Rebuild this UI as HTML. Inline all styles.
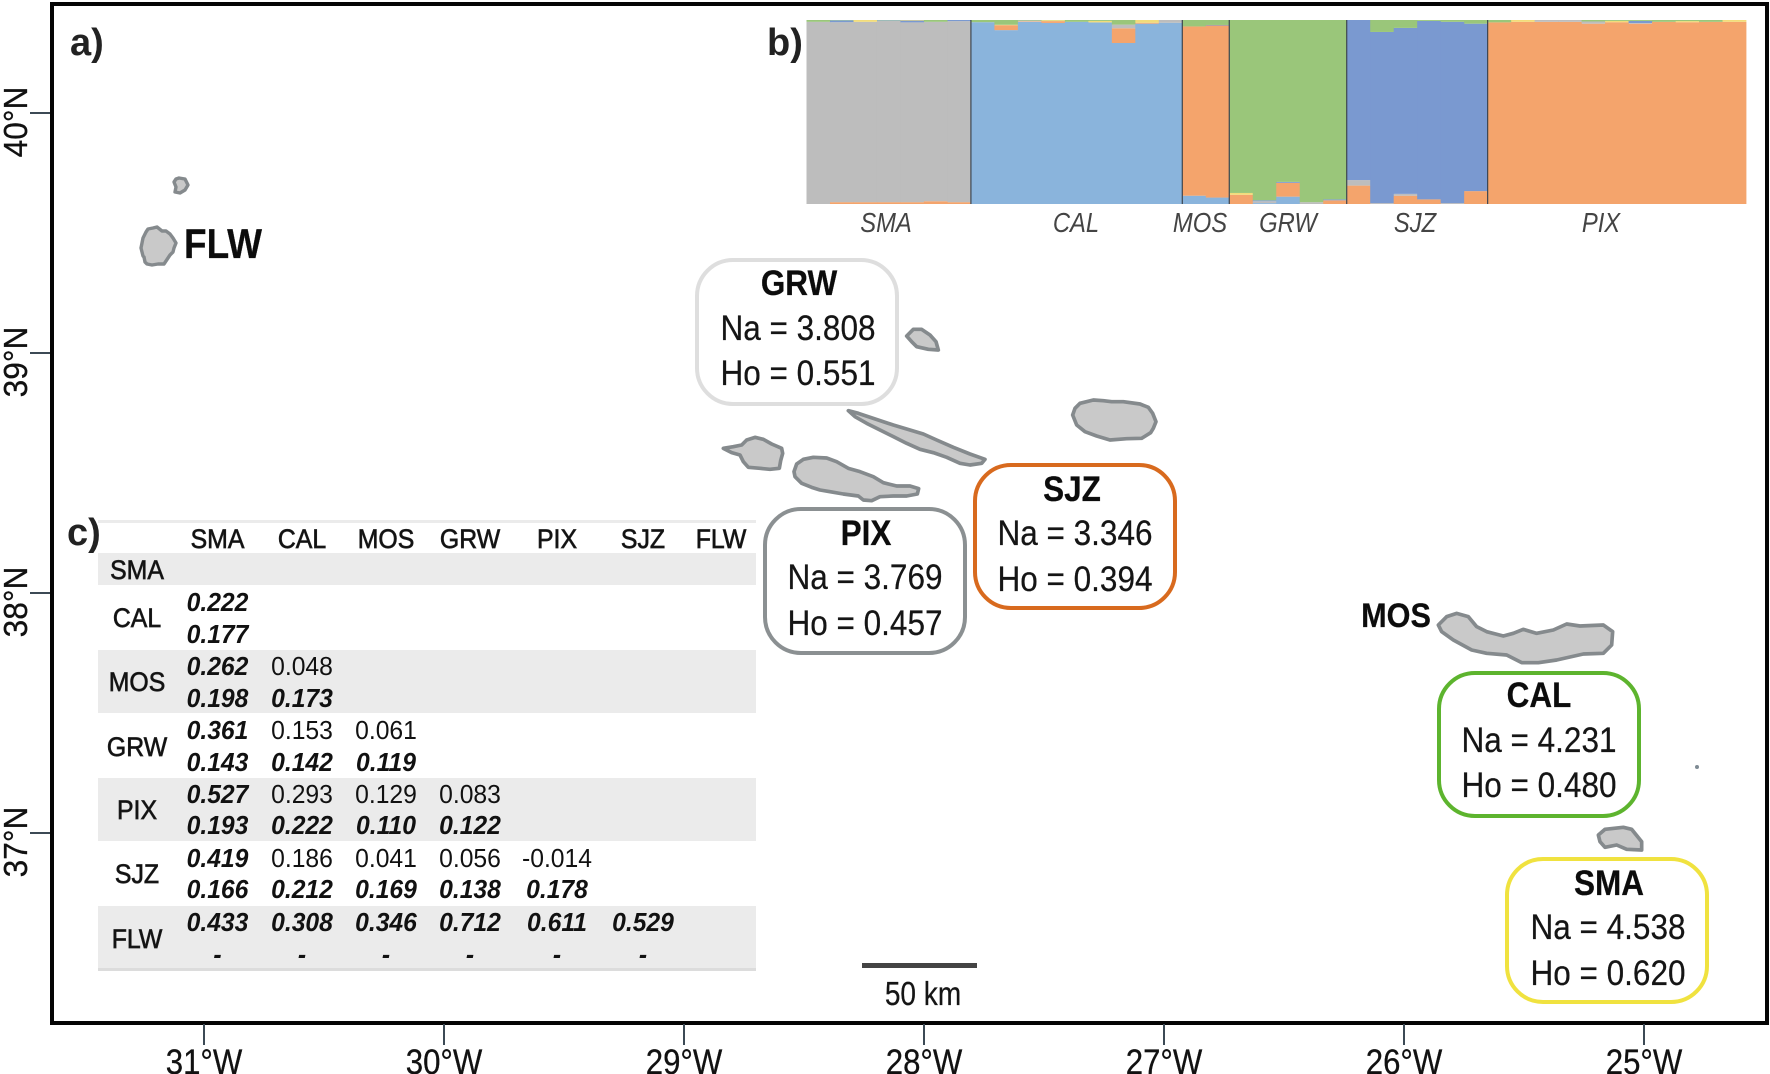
<!DOCTYPE html>
<html lang="en">
<head>
<meta charset="utf-8">
<title>Azores population genetics figure</title>
<style>
html,body{margin:0;padding:0;background:#fff;width:1770px;height:1074px;overflow:hidden}
svg{display:block;font-family:"Liberation Sans",Arial,sans-serif}
.isl{fill:#c9c9c9;stroke:#858a8d;stroke-width:11;stroke-linejoin:round}
.box{fill:#fff;stroke-width:4}
.t{fill:#151515;text-anchor:middle;font-size:35px;stroke:#151515;stroke-width:.25px}
.b{font-weight:700;fill:#0c0c0c}
</style>
</head>
<body>
<svg id="fig" xmlns="http://www.w3.org/2000/svg" width="1770" height="1074" viewBox="0 0 1770 1074">
  <rect width="1770" height="1074" fill="#fff"/>
  <rect x="52" y="4" width="1715" height="1019" fill="none" stroke="#050505" stroke-width="4"/>
  <g id="axes"></g>

  <g>
    <polygon class="isl" style="stroke-width:3.4" points="174,182 176,179 179,178 185,179 188,185 185,190 180,193 175,192 176,187"/>
    <polygon class="isl" style="stroke-width:3.4" points="143,238 146,232 148,229 153,228 157,227 162,231 166,231 170,234 173,238 176,243 174,248 173,252 170,255 168,258 164,264 158,264 152,265 147,264 145,262 144,257 143,256 141,248"/>
    <g transform="translate(680,250) scale(.33333)">
      <polygon class="isl" points="680,258 700,238 725,238 750,255 768,275 775,300 745,298 710,290 695,275"/>
      <polygon class="isl" points="505,482 535,490 580,505 640,525 690,540 730,552 770,570 820,592 870,612 915,628 905,640 870,645 840,640 800,622 760,608 720,598 680,580 640,560 600,540 560,520 525,500"/>
      <polygon class="isl" points="1178,495 1185,475 1200,460 1240,450 1270,452 1295,455 1330,455 1380,462 1405,472 1418,490 1428,515 1420,535 1412,548 1385,565 1340,566 1290,570 1250,558 1215,545 1190,525"/>
      <polygon class="isl" points="130,595 160,590 185,585 200,570 225,562 250,568 275,582 305,595 308,610 302,632 298,655 270,658 240,655 205,652 190,635 180,615 155,608"/>
      <polygon class="isl" points="342,665 350,642 370,628 400,622 440,624 470,635 505,655 540,665 580,680 610,698 650,708 690,708 716,716 712,732 680,738 640,738 600,740 575,752 550,750 535,738 490,732 450,725 420,720 395,712 365,700 345,680"/>
    </g>
    <g transform="translate(1340,590) scale(.33333)">
      <polygon class="isl" points="295,105 320,80 350,70 385,80 410,110 440,125 490,138 520,130 550,118 590,130 640,120 680,102 720,108 790,105 818,125 815,165 790,190 730,192 650,210 595,218 545,218 500,195 440,190 395,180 340,150 305,125"/>
      <polygon class="isl" points="775,735 795,718 850,712 875,718 905,755 905,780 860,778 830,765 795,772 780,755"/>
    </g>
    <circle cx="1697" cy="767" r="2" fill="#7f8b94"/>
  </g>

  <g font-weight="700" font-size="38" fill="#222">
    <text x="70" y="55">a)</text>
    <text x="767" y="55">b)</text>
    <text x="67" y="545">c)</text>
  </g>

  <text class="t b" style="font-size:42px" transform="translate(223,258) scale(.88,1)">FLW</text>
  <text class="t b" style="font-size:34px" transform="translate(1396,627) scale(.9,1)">MOS</text>

  <g>
    <rect class="box" x="697" y="260" width="200" height="144" rx="36" stroke="#dedede"/>
    <text class="t b" transform="translate(799,295) scale(.9,1)">GRW</text>
    <text class="t" transform="translate(798,340) scale(.9,1)">Na = 3.808</text>
    <text class="t" transform="translate(798,385) scale(.9,1)">Ho = 0.551</text>
  </g>
  <g>
    <rect class="box" x="765" y="509" width="200" height="144" rx="36" stroke="#8b9092"/>
    <text class="t b" transform="translate(866,545) scale(.9,1)">PIX</text>
    <text class="t" transform="translate(865,589) scale(.9,1)">Na = 3.769</text>
    <text class="t" transform="translate(865,635) scale(.9,1)">Ho = 0.457</text>
  </g>
  <g>
    <rect class="box" x="975" y="465" width="200" height="143" rx="36" stroke="#d86a1e"/>
    <text class="t b" transform="translate(1072,501) scale(.9,1)">SJZ</text>
    <text class="t" transform="translate(1075,545) scale(.9,1)">Na = 3.346</text>
    <text class="t" transform="translate(1075,591) scale(.9,1)">Ho = 0.394</text>
  </g>
  <g>
    <rect class="box" x="1439" y="673" width="200" height="143" rx="36" stroke="#5db42e"/>
    <text class="t b" transform="translate(1539,707) scale(.9,1)">CAL</text>
    <text class="t" transform="translate(1539,752) scale(.9,1)">Na = 4.231</text>
    <text class="t" transform="translate(1539,797) scale(.9,1)">Ho = 0.480</text>
  </g>
  <g>
    <rect class="box" x="1507" y="859" width="200" height="143" rx="36" stroke="#f0e23f"/>
    <text class="t b" transform="translate(1609,895) scale(.9,1)">SMA</text>
    <text class="t" transform="translate(1608,939) scale(.9,1)">Na = 4.538</text>
    <text class="t" transform="translate(1608,985) scale(.9,1)">Ho = 0.620</text>
  </g>

  <rect x="862" y="963" width="115" height="5" fill="#444"/>
  <text class="t" style="font-size:33px" transform="translate(923,1005) scale(.85,1)">50 km</text>

  <g id="structure"></g>
  <g id="fst"></g>
</svg>

<script>
// Map axes
var lonTicks = [31, 30, 29, 28, 27, 26, 25];
var latTicks = [40, 39, 38, 37];

// STRUCTURE plot: populations and per-individual ancestry in percent
var populations = ['SMA', 'CAL', 'MOS', 'GRW', 'SJZ', 'PIX'];
var clusterNames = ['light-blue', 'orange', 'gray', 'blue', 'yellow', 'green'];
var clusterColors = ['#8ab4dc', '#f4a46c', '#bdbdbd', '#7a99d0', '#f2dc7a', '#9ac67a'];
var smaAncestry = [
  [0, 0, 99, 0, 0, 1],
  [0, 1, 97.8, 1, 0, .2],
  [0, 1, 98, 0, 1, 0],
  [0, 1, 98.5, .3, 0, .2],
  [0, 1, 97.7, 1, .3, 0],
  [0, 1.5, 97.5, 0, 0, 1],
  [0, 1, 98.4, .6, 0, 0]
];
var calAncestry = [
  [98.8, 0, 0, 0, 0, 1.2],
  [94.5, 2.7, 0, 0, .2, 2.6],
  [99, .3, .4, 0, 0, .3],
  [98.4, 1, 0, 0, .5, .1],
  [99, 0, 0, 0, 0, 1],
  [98.7, 0, 0, 0, .8, .5],
  [87.5, 8, 2, 0, 0, 2.5],
  [98, .5, 0, 0, 1.5, 0],
  [98.5, 0, 1.5, 0, 0, 0]
];
var mosAncestry = [
  [4.5, 92, 0, 0, 0, 3.5],
  [3.5, 93.5, 0, .3, 0, 2.7]
];
var grwAncestry = [
  [0, 5, 0, 0, 1, 94],
  [.5, 0, 1, .5, 0, 98],
  [4, 7.5, 0, .5, 0, 88],
  [0, 0, 1, 0, 0, 99],
  [0, 2, 0, .5, 0, 97.5]
];
var sjzAncestry = [
  [0, 10, 3, 87, 0, 0],
  [0, 0, .5, 93, 0, 6.5],
  [0, 4.5, 1, 90.2, 0, 4.3],
  [0, 2.5, 0, 97, 0, .5],
  [0, 0, .5, 98.5, 0, 1],
  [0, 7, 0, 91, 0, 2]
];
var pixAncestry = [
  [0, 98.7, 0, 0, 0, 1.3],
  [0, 99, 0, 0, 1, 0],
  [0, 99, 1, 0, 0, 0],
  [0, 99, 1, 0, 0, 0],
  [0, 98, 1.2, 0, 0, .8],
  [0, 98.8, 0, 0, .7, .5],
  [0, 98, .3, 1.2, 0, .5],
  [0, 99, 0, 0, 0, 1],
  [0, 98.8, 0, 0, .6, .6],
  [0, 99, 0, 0, 0, 1],
  [0, 99, 0, 0, 1, 0]
];
var ancestryByPopulation = [smaAncestry, calAncestry, mosAncestry, grwAncestry, sjzAncestry, pixAncestry];

// Pairwise table text
var tableHeader = ['SMA', 'CAL', 'MOS', 'GRW', 'PIX', 'SJZ', 'FLW'];
var tableRows = ['SMA', 'CAL', 'MOS', 'GRW', 'PIX', 'SJZ', 'FLW'];
var upperValues = [
  [],
  ['0.222'],
  ['0.262', '0.048'],
  ['0.361', '0.153', '0.061'],
  ['0.527', '0.293', '0.129', '0.083'],
  ['0.419', '0.186', '0.041', '0.056', '-0.014'],
  ['0.433', '0.308', '0.346', '0.712', '0.611', '0.529']
];
var lowerValues = [
  [],
  ['0.177'],
  ['0.198', '0.173'],
  ['0.143', '0.142', '0.119'],
  ['0.193', '0.222', '0.110', '0.122'],
  ['0.166', '0.212', '0.169', '0.138', '0.178'],
  ['-', '-', '-', '-', '-', '-']
];

var NS = 'http://www.w3.org/2000/svg';
function mk(tag, parent, attrs) {
  var el = document.createElementNS(NS, tag);
  for (var k in attrs) el.setAttribute(k, attrs[k]);
  parent.appendChild(el);
  return el;
}

// Axis functions
function xLon(lon) { return 1644 - (lon - 25) * 240; }
function yLat(lat) { return 113 + (40 - lat) * 240; }

var axes = document.getElementById('axes');
lonTicks.forEach(function (lon) {
  var tick = mk('line', axes, { x1: xLon(lon), x2: xLon(lon), y1: 1024, y2: 1045, stroke: '#3c4a55', 'stroke-width': 2 });
  
  
  var label = mk('text', axes, { 'text-anchor': 'middle', 'font-size': 35, fill: '#111', stroke: '#111', 'stroke-width': .3, transform: 'translate(' + xLon(lon) + ',1074) scale(.89,1)' });
  
  
  label.textContent = lon + '°W';
});
latTicks.forEach(function (lat) {
  var tick = mk('line', axes, { x1: 30, x2: 50, y1: yLat(lat), y2: yLat(lat), stroke: '#3c4a55', 'stroke-width': 2 });
  
  
  var label = mk('text', axes, { 'text-anchor': 'middle', 'font-size': 33, fill: '#111', stroke: '#111', 'stroke-width': .3, transform: 'translate(27,' + (yLat(lat) + 9) + ') rotate(-90) scale(.96,1)' });
  
  
  label.textContent = lat + '°N';
});

// STRUCTURE plot scales
var plotLeft = 806.5, plotRight = 1746, plotTop = 20, plotBottom = 204;
var totalIndividuals = ancestryByPopulation.reduce(function (n, p) { return n + p.length; }, 0);
var barWidth = (plotRight - plotLeft) / totalIndividuals;
function xIndividual(i) { return plotLeft + i * barWidth; }
function yShare(pct) { return plotBottom - (pct / 100) * (plotBottom - plotTop); }

var structure = document.getElementById('structure');
var index = 0;
populations.forEach(function (pop, p) {
  var start = index;
  ancestryByPopulation[p].forEach(function (shares) {
    var cum = 0;
    shares.forEach(function (s, c) {
      if (s > 0) {
        var bar = mk('rect', structure, {
          x: xIndividual(index), width: barWidth + .4,
          y: yShare(cum + s), height: yShare(cum) - yShare(cum + s),
          fill: clusterColors[c]
        });
        
        
      }
      cum += s;
    });
    index++;
  });
  if (p > 0) {
    var sep = mk('line', structure, { x1: xIndividual(start), x2: xIndividual(start), y1: plotTop, y2: plotBottom, stroke: '#3d4650', 'stroke-width': 1.2 });
    
    
  }
});
var popLabelX = { SMA: 886, CAL: 1076, MOS: 1200, GRW: 1288, SJZ: 1415, PIX: 1601 };
populations.forEach(function (pop) {
  var label = mk('text', structure, { 'text-anchor': 'middle', 'font-size': 28, 'font-style': 'italic', fill: '#444', transform: 'translate(' + popLabelX[pop] + ',232) scale(.85,1)' });
  
  
  label.textContent = pop;
});

// Pairwise table
var fst = document.getElementById('fst');
var columnX = [217.5, 302, 386, 470, 557, 643, 721];
var labelX = 137;
var headerY = 548;
var rowLabelY = [579, 627, 691, 756, 819, 883, 948];
var upperY = [0, 611, 675, 739, 803, 867, 931];
var lowerY = [0, 643, 707, 771, 834, 898, 963];
[[520, 3], [553, 32], [650, 63], [778, 63], [906, 64]].forEach(function (b) {
  var band = mk('rect', fst, { x: 98, y: b[0], width: 658, height: b[1], fill: '#ebebeb' });
  
  
});
var rule = mk('rect', fst, { x: 98, y: 968, width: 658, height: 3, fill: '#dcdcdc' });



function cell(x, y, str, bold, heavy) {
  var attrs = { 'text-anchor': 'middle', 'font-size': 26, fill: '#111', transform: 'translate(' + x + ',' + y + ') scale(.95,1)' };
  if (bold) { attrs['font-weight'] = 700; attrs['font-style'] = 'italic'; }
  if (heavy) { attrs['stroke'] = '#222'; attrs['stroke-width'] = .7; attrs['font-size'] = 27; attrs['transform'] = 'translate(' + x + ',' + y + ') scale(.92,1)'; }
  var el = mk('text', fst, attrs);
  el.textContent = str;
  return el;
}
tableHeader.forEach(function (h, i) {
  var el = cell(columnX[i], headerY, h, false, true);
  
  
});
tableRows.forEach(function (r, i) {
  var el = cell(labelX, rowLabelY[i], r, false, true);
  
  
  upperValues[i].forEach(function (v, j) {
    var up = cell(columnX[j], upperY[i], v, j === 0 || i === 6, false);
    
    
  });
  lowerValues[i].forEach(function (v, j) {
    var low = cell(columnX[j], lowerY[i], v, true, false);
    
    
  });
});
</script>
</body>
</html>
